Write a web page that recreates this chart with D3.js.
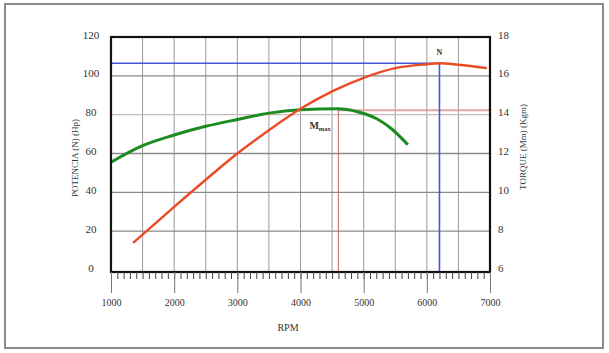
<!DOCTYPE html>
<html>
<head>
<meta charset="utf-8">
<script src="https://cdn.jsdelivr.net/npm/d3@7/dist/d3.min.js"></script>
<style>
  html, body { margin: 0; padding: 0; background: #fff; }
  svg { display: block; }
  text { font-family: "Liberation Serif", "DejaVu Serif", serif; fill: #333; }
</style>
</head>
<body>
<svg id="chart" width="609" height="353"></svg>
<script>
// ---- data ----
const rpmTorque = [1000, 1500, 2000, 2500, 3000, 3500, 4000, 4600, 4900, 5200, 5450, 5700];
const torque    = [11.55, 12.4, 12.95, 13.4, 13.75, 14.08, 14.25, 14.3, 14.15, 13.8, 13.25, 12.45];
const rpmPower  = [1350, 2000, 2500, 3000, 3500, 4000, 4500, 5000, 5500, 6000, 6200, 6500, 6950];
const power     = [14, 32.5, 46.5, 60, 72, 83, 92, 99, 104, 106, 106.5, 105.7, 104];
const maxPower  = { rpm: 6200, value: 106.5 };
const maxTorque = { rpm: 4600, value: 14.3 };
const xTicks    = [1000, 2000, 3000, 4000, 5000, 6000, 7000];
const powerTicks  = [0, 20, 40, 60, 80, 100, 120];
const torqueTicks = [6, 8, 10, 12, 14, 16, 18];
const xTitle = "RPM";
const leftTitle = "POTENCIA (N) (Hp)";
const rightTitle = "TORQUE (Mm) (Kgm)";

// ---- layout ----
const L = 111, R = 490, T = 37, B = 270, FB = 272;
const svg = d3.select("#chart");

const x = d3.scaleLinear().domain([1000, 7000]).range([L, R]);
const yP = d3.scaleLinear().domain([0, 120]).range([B, T]);
const yT = d3.scaleLinear().domain([6, 18]).range([B, T]);

// outer frame
svg.append("rect").attr("x", 5).attr("y", 4).attr("width", 598).attr("height", 344)
  .attr("fill", "#fff").attr("stroke", "#8c8c8c").attr("stroke-width", 2);

// grid
const g = svg.append("g");
g.selectAll("line.vg").data(d3.range(1500, 7000, 500)).join("line")
  .attr("x1", d => x(d)).attr("x2", d => x(d)).attr("y1", T).attr("y2", FB)
  .attr("stroke", "#9a9a9a").attr("stroke-width", 1);
g.selectAll("line.hg").data(powerTicks.filter(d => d > 0 && d < 120)).join("line")
  .attr("x1", L).attr("x2", R).attr("y1", d => yP(d)).attr("y2", d => yP(d))
  .attr("stroke", d => d === 80 ? "#c9b8b8" : "#8a8a8a").attr("stroke-width", 1.3);

// max torque reference lines
svg.append("line").attr("x1", x(maxTorque.rpm)).attr("x2", R)
  .attr("y1", yT(maxTorque.value) + 1.5).attr("y2", yT(maxTorque.value) + 1.5)
  .attr("stroke", "#dca6a6").attr("stroke-width", 2);
svg.append("line").attr("x1", x(maxTorque.rpm)).attr("x2", x(maxTorque.rpm))
  .attr("y1", yT(maxTorque.value)).attr("y2", FB)
  .attr("stroke", "#c86a6a").attr("stroke-width", 1);

// max power reference lines
svg.append("line").attr("x1", L).attr("x2", x(maxPower.rpm))
  .attr("y1", yP(maxPower.value)).attr("y2", yP(maxPower.value))
  .attr("stroke", "#4356d8").attr("stroke-width", 1.6);
svg.append("line").attr("x1", x(maxPower.rpm)).attr("x2", x(maxPower.rpm))
  .attr("y1", yP(maxPower.value)).attr("y2", FB)
  .attr("stroke", "#4356d8").attr("stroke-width", 1.6);

// curves
const torqueLine = d3.line().x((d, i) => x(rpmTorque[i])).y(d => yT(d)).curve(d3.curveMonotoneX);
const powerLine  = d3.line().x((d, i) => x(rpmPower[i])).y(d => yP(d)).curve(d3.curveMonotoneX);
svg.append("path").attr("d", torqueLine(torque)).attr("fill", "none")
  .attr("stroke", "#1c8c22").attr("stroke-width", 3);
svg.append("path").attr("d", powerLine(power)).attr("fill", "none")
  .attr("stroke", "#ec4a24").attr("stroke-width", 2.4);

// labels on chart
const mm = svg.append("text").attr("x", x(maxTorque.rpm) - 29).attr("y", yT(maxTorque.value) + 20)
  .attr("font-size", 10).attr("font-weight", "bold").attr("fill", "#222");
mm.append("tspan").text("M");
mm.append("tspan").attr("font-size", 6.5).attr("dy", 2).text("max");
svg.append("text").attr("x", x(maxPower.rpm) - 3).attr("y", yP(maxPower.value) - 8)
  .attr("font-size", 8).attr("font-weight", "bold").attr("fill", "#222").text("N");

// plot frame
svg.append("rect").attr("x", L).attr("y", T).attr("width", R - L).attr("height", FB - T)
  .attr("fill", "none").attr("stroke", "#111").attr("stroke-width", 2.2);

// bottom axis: minor + major ticks
const minorAxis = d3.axisBottom(x).tickValues(d3.range(1000, 7001, 100)).tickSize(7).tickFormat("");
const ga1 = svg.append("g").attr("transform", `translate(0,${FB})`).call(minorAxis);
ga1.select(".domain").remove();
ga1.selectAll(".tick line").attr("stroke", "#444");

const majorAxis = d3.axisBottom(x).tickValues(xTicks).tickSize(21).tickPadding(6).tickFormat(d3.format("d"));
const ga2 = svg.append("g").attr("transform", `translate(0,${FB})`).call(majorAxis);
ga2.select(".domain").remove();
ga2.selectAll(".tick line").attr("stroke", "#777");
ga2.selectAll(".tick text").attr("font-size", 10).attr("font-family", "Liberation Serif").attr("fill", "#333");

// left axis labels
const leftAxis = d3.axisLeft(yP).tickValues(powerTicks).tickSize(0).tickPadding(0);
const gl = svg.append("g").attr("transform", `translate(${L},0)`).call(leftAxis);
gl.select(".domain").remove();
gl.selectAll(".tick text").attr("x", 91 - L).attr("dy", "0.1em").attr("text-anchor", "middle")
  .attr("font-size", 11).attr("font-family", "Liberation Serif").attr("fill", "#333");

// right axis labels
const rightAxis = d3.axisRight(yT).tickValues(torqueTicks).tickSize(0).tickPadding(0);
const gr = svg.append("g").attr("transform", `translate(${R},0)`).call(rightAxis);
gr.select(".domain").remove();
gr.selectAll(".tick text").attr("x", 8).attr("dy", "0.1em").attr("text-anchor", "start")
  .attr("font-size", 11).attr("font-family", "Liberation Serif").attr("fill", "#333");

// axis titles
svg.append("text").attr("x", 288).attr("y", 331).attr("text-anchor", "middle")
  .attr("font-size", 10).text(xTitle);
svg.append("text").attr("transform", "translate(78,158) rotate(-90)").attr("text-anchor", "middle")
  .attr("font-size", 9).text(leftTitle);
svg.append("text").attr("transform", "translate(526,147) rotate(-90)").attr("text-anchor", "middle")
  .attr("font-size", 9).text(rightTitle);
</script>
</body>
</html>
